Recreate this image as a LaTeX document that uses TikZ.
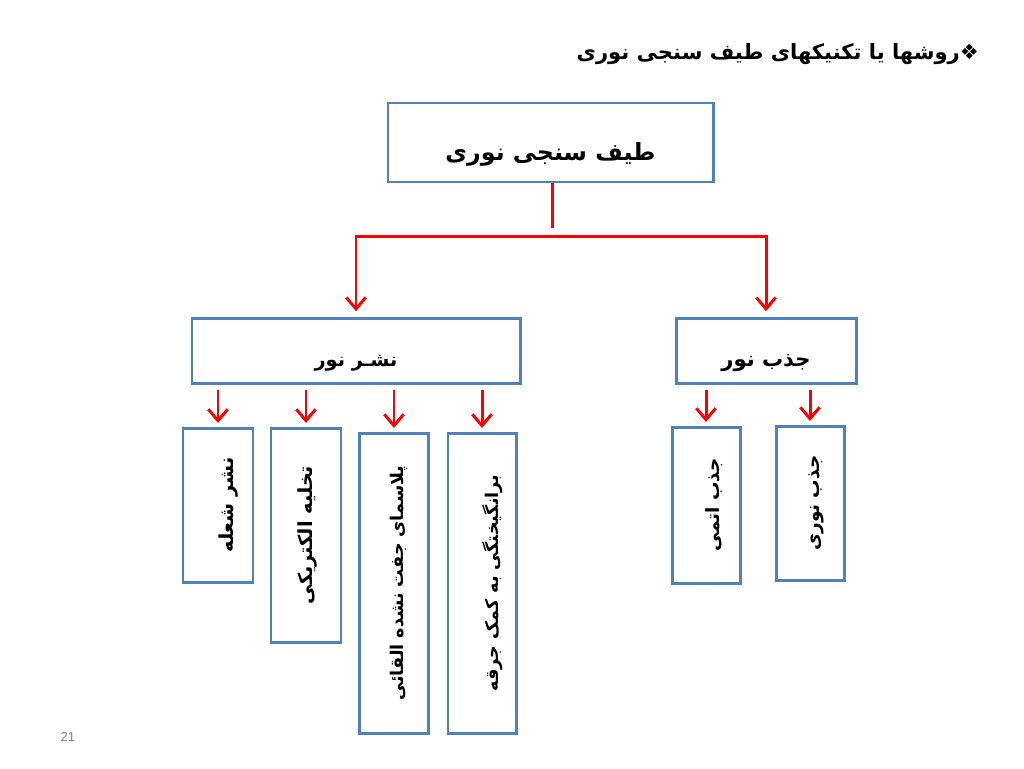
\documentclass[tikz,border=0pt]{standalone}
\usepackage{fontspec}
\setmainfont{Liberation Sans}
\newfontfamily\arfont[Script=Arabic]{DejaVu Sans}
\TeXXeTstate=1
\usetikzlibrary{arrows.meta}
\definecolor{boxblue}{HTML}{4F81BD}
\definecolor{pagegray}{HTML}{898989}
\newcommand{\pertext}[3]{{\arfont\bfseries\fontsize{#1}{#1}\selectfont\raisebox{-#2}[\height][\depth]{#3}}}
\begin{document}
\begin{tikzpicture}[x=0.02cm, y=-0.02cm,
  >={Straight Barb[length=6.5pt,width=11pt,line width=1.7pt]},
  box/.style={draw=boxblue, line width=1.7pt, fill=white, inner sep=0pt, align=center},
  link/.style={draw=red, line width=1.7pt},
  arr/.style={link, ->}]
\useasboundingbox (0,0) rectangle (1024,768);

\node[anchor=east] (title) at (985,54) {\pertext{12}{0pt}{\beginR ❖روشها یا تکنیکهای طیف سنجی نوری\endR}};

\node[box, minimum width=325*0.02cm, minimum height=79*0.02cm] (top) at (550.5,142.5) {\pertext{13.5}{7pt}{\beginR طیف سنجی نوری\endR}};

\node[box, minimum width=328*0.02cm, minimum height=65*0.02cm] (nashr) at (356,350.5) {\pertext{11}{7.5pt}{\beginR نشـر نور\endR}};
\node[box, minimum width=180*0.02cm, minimum height=65*0.02cm] (jazb) at (766,350.5) {\pertext{12}{7pt}{\beginR جذب نور\endR}};

\node[box, minimum width=70*0.02cm, minimum height=154*0.02cm] (flame) at (218,505) {\rotatebox{90}{\pertext{11}{6pt}{\beginR نشر شعله\endR}}};
\node[box, minimum width=70*0.02cm, minimum height=214*0.02cm] (spark) at (306,535) {\rotatebox{90}{\pertext{11}{1pt}{\beginR تخلیه الکتریکی\endR}}};
\node[box, minimum width=69*0.02cm, minimum height=300*0.02cm] (icp) at (394,583) {\rotatebox{90}{\pertext{10}{3pt}{\beginR پلاسمای جفت نشده القائی\endR}}};
\node[box, minimum width=68*0.02cm, minimum height=300*0.02cm] (excite) at (482,583) {\rotatebox{90}{\pertext{10}{6pt}{\beginR برانگیختگی به کمک جرقه\endR}}};
\node[box, minimum width=68*0.02cm, minimum height=156*0.02cm] (atomic) at (706,505) {\rotatebox{90}{\pertext{10.5}{4.5pt}{\beginR جذب اتمی\endR}}};
\node[box, minimum width=68*0.02cm, minimum height=154*0.02cm] (optic) at (810,503) {\rotatebox{90}{\pertext{10.5}{3.5pt}{\beginR جذب نوری\endR}}};

\node[text=pagegray, font=\fontsize{7.5}{9}\selectfont] (page) at (68,737) {21};

\coordinate (hub) at (552,236);
\coordinate (stem) at (552,228);
\draw[link] (top.south -| stem) -- (stem);
\draw[arr, shorten >=3pt] (hub) -| (nashr.north);
\draw[arr, shorten >=3pt] (hub) -| (jazb.north);

\foreach \leaf in {flame, spark, icp, excite}
  \draw[arr, shorten <=3pt, shorten >=2pt] (nashr.south -| \leaf.north) -- (\leaf.north);
\foreach \leaf in {atomic, optic}
  \draw[arr, shorten <=3pt, shorten >=2pt] (jazb.south -| \leaf.north) -- (\leaf.north);
\end{tikzpicture}
\end{document}
